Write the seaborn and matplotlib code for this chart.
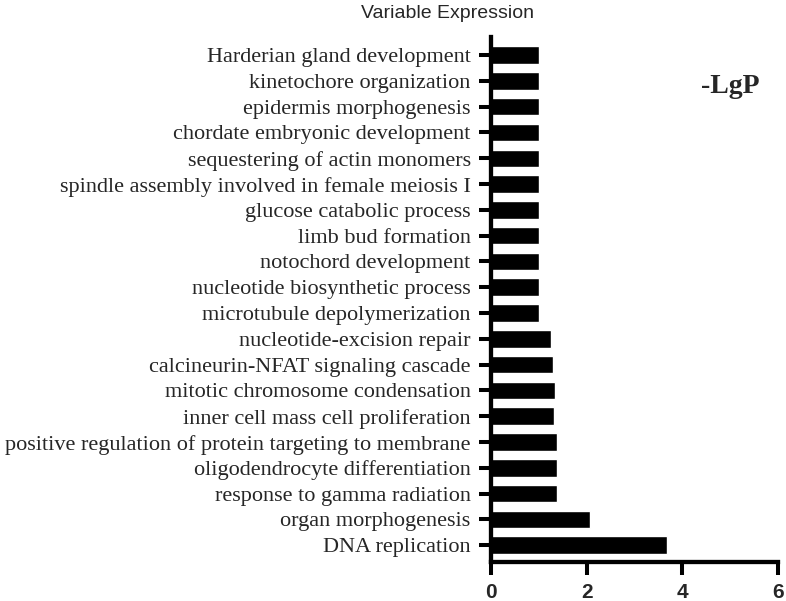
import matplotlib
matplotlib.use("Agg")
import matplotlib.pyplot as plt
import seaborn as sns

# GO terms, top to bottom
terms = [
    "Harderian gland development",
    "kinetochore organization",
    "epidermis morphogenesis",
    "chordate embryonic development",
    "sequestering of actin monomers",
    "spindle assembly involved in female meiosis I",
    "glucose catabolic process",
    "limb bud formation",
    "notochord development",
    "nucleotide biosynthetic process",
    "microtubule depolymerization",
    "nucleotide-excision repair",
    "calcineurin-NFAT signaling cascade",
    "mitotic chromosome condensation",
    "inner cell mass cell proliferation",
    "positive regulation of protein targeting to membrane",
    "oligodendrocyte differentiation",
    "response to gamma radiation",
    "organ morphogenesis",
    "DNA replication",
]
neg_log_p = [1.0, 1.0, 1.0, 1.0, 1.0, 1.0, 1.0, 1.0, 1.0, 1.0,
             1.0, 1.26, 1.30, 1.34, 1.32, 1.38, 1.38, 1.38, 2.06, 3.69]
x_ticks = [0, 2, 4, 6]

sns.set_style("ticks")

fig = plt.figure(figsize=(7.86, 6.01), dpi=100)
ax = fig.add_axes([0.6247, 0.0657, 0.3651, 0.8727])

sns.barplot(x=neg_log_p, y=terms, orient="h", color="black",
            saturation=1, width=0.68, ax=ax)

ax.set_xlim(0, 6)
ax.set_ylim(19.63, -0.7)
ax.set_xticks(x_ticks)
ax.set_xlabel("")
ax.set_ylabel("")

sns.despine(ax=ax)
for s in ["left", "bottom"]:
    ax.spines[s].set_linewidth(3.1)
    ax.spines[s].set_color("black")

ax.tick_params(axis="y", length=8.6, width=2.9, pad=6, color="black")
ax.tick_params(axis="x", length=9.5, width=2.9, pad=6, color="black")

for lab in ax.get_yticklabels():
    lab.set_family("Liberation Serif")
    lab.set_fontsize(16.05)
for lab in ax.get_xticklabels():
    lab.set_family("Liberation Sans")
    lab.set_fontsize(15)
    lab.set_fontweight("bold")

fig.text(0.569, 0.978, "Variable Expression", ha="center", va="center",
         fontsize=14, family="Liberation Sans")
fig.text(0.929, 0.845, "-LgP", ha="center", va="baseline",
         fontsize=20, fontweight="bold", family="Liberation Serif")

fig.savefig("out.png", dpi=100)
